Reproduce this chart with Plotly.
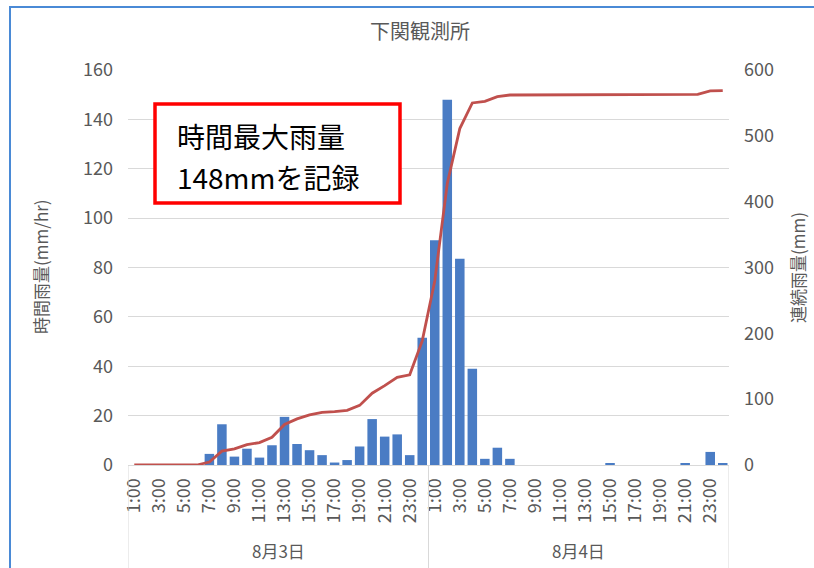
import plotly.graph_objects as go

# Observation station: Shimonoseki, 3-4 August, hourly data
days = ["8月3日", "8月4日"]
hours = ["1:00", "2:00", "3:00", "4:00", "5:00", "6:00", "7:00", "8:00",
         "9:00", "10:00", "11:00", "12:00", "13:00", "14:00", "15:00", "16:00",
         "17:00", "18:00", "19:00", "20:00", "21:00", "22:00", "23:00", "24:00"]

# Hourly rainfall (mm/hr)
rain_day1 = [0, 0, 0, 0, 0, 0, 4.5, 16.5, 3.4, 6.6, 3.0, 8.0,
             19.5, 8.5, 6.0, 4.0, 1.0, 2.0, 7.5, 18.6, 11.5, 12.4, 4.0, 51.5]
rain_day2 = [91, 148, 83.5, 39, 2.5, 7, 2.5, 0, 0, 0, 0, 0,
             0, 0, 0.5, 0, 0, 0, 0, 0, 0.5, 0, 5.3, 0.5]

# Continuous (accumulated) rainfall (mm)
cum_day1 = [0, 0, 0, 0, 0, 0, 4.5, 21, 24.4, 31, 34, 42,
            61.5, 70, 76, 80, 81, 83, 90.5, 109.1, 120.6, 133, 137, 188.5]
cum_day2 = [279.5, 427.5, 511, 550, 552.5, 559.5, 562, 562, 562, 562, 562, 562,
            562, 562, 562.5, 562.5, 562.5, 562.5, 562.5, 562.5, 563, 563, 568.3, 568.8]

left_ticks = [0, 20, 40, 60, 80, 100, 120, 140, 160]
right_ticks = [0, 100, 200, 300, 400, 500, 600]

callout_lines = ["時間最大雨量", "148mmを記録"]

rain = rain_day1 + rain_day2
cum = cum_day1 + cum_day2
n_per_day = len(hours)
xpos = list(range(len(days) * n_per_day))
tickvals = [i for i in xpos if i % 2 == 0]
ticktext = [hours[i % n_per_day] for i in tickvals]

FONT = "Noto Sans CJK JP"
GREY = "#595959"
W, H = 814, 568
L, R, T, B = 128, 729, 70, 465  # plot-area edges in pixels


def px_x(p):
    return (p - L) / (R - L)


def px_y(p):
    return (B - p) / (B - T)


fig = go.Figure()
fig.add_trace(go.Bar(
    x=xpos, y=rain, width=0.76, marker=dict(color="#4a7cc4", line=dict(width=0)),
    name="時間雨量", yaxis="y",
))
fig.add_trace(go.Scatter(
    x=xpos, y=cum, mode="lines", line=dict(color="#c0504d", width=2.8),
    name="連続雨量", yaxis="y2",
))

shapes = []
# dividers of the two-level category axis (day groups)
for d in range(len(days) + 1):
    shapes.append(dict(type="line", xref="x", yref="paper",
                       x0=d * n_per_day - 0.5, x1=d * n_per_day - 0.5,
                       y0=0, y1=px_y(575), line=dict(color="#d9d9d9", width=1)))
# outer chart frame
shapes.append(dict(type="rect", xref="paper", yref="paper",
                   x0=px_x(10), x1=px_x(830), y0=px_y(590), y1=px_y(7),
                   line=dict(color="#4a8ad6", width=2), fillcolor="rgba(0,0,0,0)",
                   layer="above"))
# red callout box
shapes.append(dict(type="rect", xref="paper", yref="paper",
                   x0=px_x(155), x1=px_x(400), y0=px_y(203), y1=px_y(104),
                   line=dict(color="#ff0000", width=3.5), fillcolor="#ffffff",
                   layer="above"))

annotations = []
for d, label in enumerate(days):
    annotations.append(dict(
        x=d * n_per_day + (n_per_day - 1) / 2, xref="x", y=px_y(550), yref="paper",
        text=label, showarrow=False, font=dict(family=FONT, size=17, color=GREY),
        xanchor="center", yanchor="middle",
    ))
annotations.append(dict(
    x=px_x(40), xref="paper", y=px_y(267), yref="paper", text="時間雨量(mm/hr)",
    textangle=-90, showarrow=False, font=dict(family=FONT, size=17, color=GREY),
    xanchor="center", yanchor="middle",
))
annotations.append(dict(
    x=px_x(797), xref="paper", y=px_y(267), yref="paper", text="連続雨量(mm)",
    textangle=-90, showarrow=False, font=dict(family=FONT, size=17, color=GREY),
    xanchor="center", yanchor="middle",
))
for line_text, cy in zip(callout_lines, [136, 177]):
    annotations.append(dict(
        x=px_x(176), xref="paper", y=px_y(cy), yref="paper",
        text=line_text, showarrow=False, align="left",
        font=dict(family=FONT, size=28, color="#000000"),
        xanchor="left", yanchor="middle", borderpad=0,
    ))

fig.update_layout(
    width=W, height=H,
    margin=dict(l=L, r=W - R, t=T, b=H - B),
    paper_bgcolor="#ffffff", plot_bgcolor="#ffffff",
    showlegend=False,
    font=dict(family=FONT, color=GREY),
    title=dict(text="下関観測所", x=px_x(420), xref="paper", xanchor="center",
               y=1 - 32 / H, yanchor="middle",
               font=dict(family=FONT, size=20, color=GREY)),
    xaxis=dict(range=[-0.5, len(xpos) - 0.5], tickmode="array", tickvals=tickvals,
               ticktext=ticktext, tickangle=-90, showgrid=False, zeroline=False,
               showline=True, linecolor="#d9d9d9", linewidth=1, ticks="",
               tickfont=dict(family=FONT, size=18, color=GREY), ticklabelstandoff=5),
    yaxis=dict(range=[0, 160], tickmode="array", tickvals=left_ticks,
               showgrid=True, gridcolor="#d9d9d9", gridwidth=1, zeroline=False,
               showline=False, ticks="", ticklabelstandoff=14,
               tickfont=dict(family=FONT, size=18, color=GREY)),
    yaxis2=dict(range=[0, 600], tickmode="array", tickvals=right_ticks,
                overlaying="y", side="right", showgrid=False, zeroline=False,
                showline=False, ticks="", ticklabelstandoff=14,
                tickfont=dict(family=FONT, size=18, color=GREY)),
    shapes=shapes, annotations=annotations,
)

fig.write_html("out.html")
